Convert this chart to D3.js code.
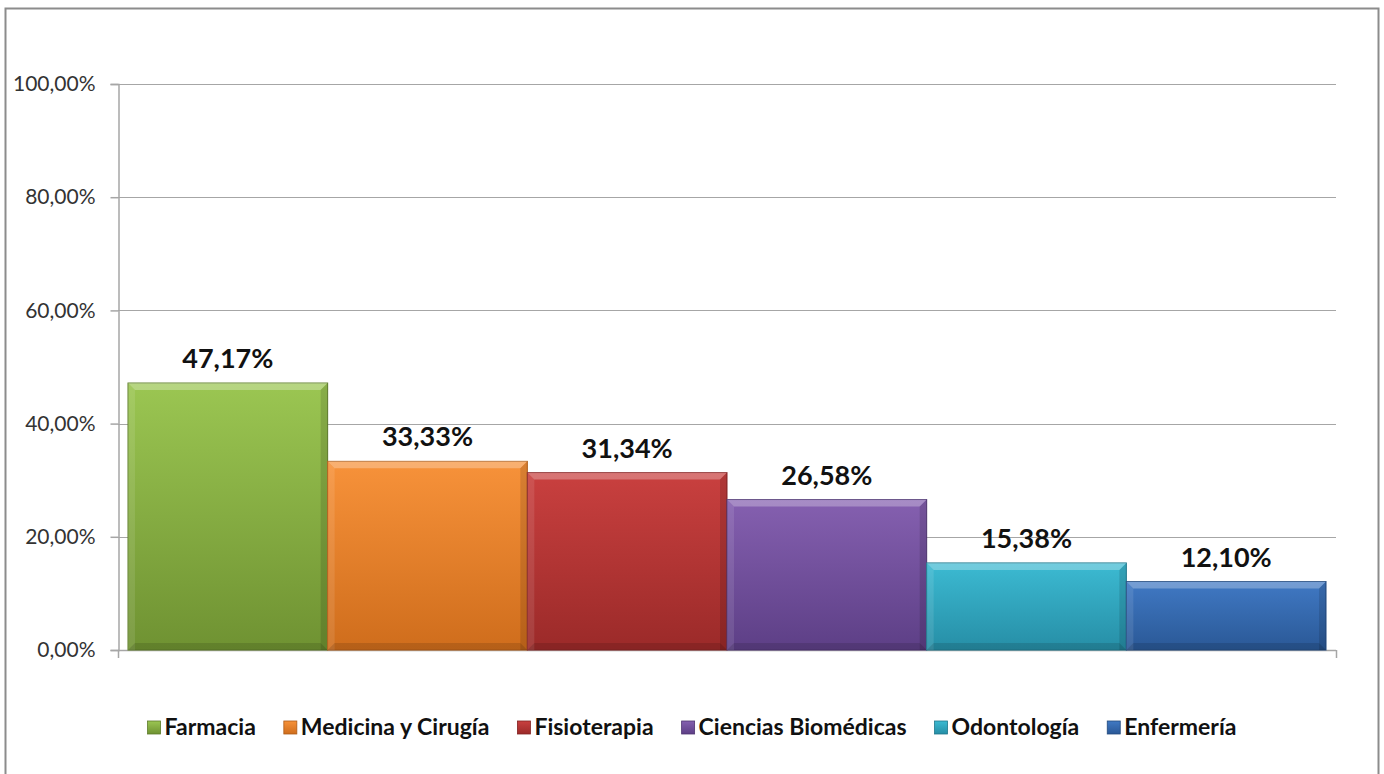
<!DOCTYPE html>
<html>
<head>
<meta charset="utf-8">
<script src="https://cdn.jsdelivr.net/npm/d3@7"></script>
<style>
  body { margin: 0; background: #fff; }
  text { font-family: Lato, "Open Sans", "DejaVu Sans", sans-serif; }
</style>
</head>
<body>
<svg id="chart"></svg>
<script>
// Data
const categories = ["Farmacia", "Medicina y Cirugía", "Fisioterapia", "Ciencias Biomédicas", "Odontología", "Enfermería"];
const values = [47.17, 33.33, 31.34, 26.58, 15.38, 12.10];
const yTicks = [0, 20, 40, 60, 80, 100];
const colors = [
    ["#9bc652", "#6f9232"],
    ["#f7923a", "#cf6d1c"],
    ["#c9403f", "#9b2a29"],
    ["#8560b0", "#5d3f86"],
    ["#3cbad2", "#268ea6"],
    ["#4079c4", "#2a5896"]
];

const width = 1384, height = 774;
const margin = { top: 84, right: 48, bottom: 124, left: 118 };

const svg = d3.select("#chart")
              .attr("width", width)
              .attr("height", height);

const fmt = v => d3.format(".2f")(v).replace(".", ",") + "%";

// Outer frame
svg.append("rect")
   .attr("x", 5.5).attr("y", 8.5)
   .attr("width", 1373).attr("height", 770)
   .attr("fill", "none")
   .attr("stroke", "#8c8c8c")
   .attr("stroke-width", 2);

// Scales
const xScale = d3.scaleBand()
                 .domain(categories)
                 .range([margin.left, width - margin.right])
                 .paddingInner(0)
                 .paddingOuter(0.05);

const yScale = d3.scaleLinear()
                 .domain([0, 100])
                 .range([height - margin.bottom, margin.top]);

// Gradients
const defs = svg.append("defs");
colors.forEach((c, i) => {
    const g = defs.append("linearGradient")
                  .attr("id", "grad" + i)
                  .attr("x1", 0).attr("y1", 0).attr("x2", 0).attr("y2", 1);
    g.append("stop").attr("offset", "0%").attr("stop-color", c[0]);
    g.append("stop").attr("offset", "100%").attr("stop-color", c[1]);
});

// Gridlines
svg.append("g")
   .selectAll("line")
   .data(yTicks.filter(d => d > 0))
   .join("line")
   .attr("x1", margin.left)
   .attr("x2", width - margin.right)
   .attr("y1", d => Math.round(yScale(d)) + 0.5)
   .attr("y2", d => Math.round(yScale(d)) + 0.5)
   .attr("stroke", "#a6a6a6")
   .attr("stroke-width", 1.2);

// Y axis
const yAxis = svg.append("g")
   .attr("transform", `translate(${margin.left + 0.5}, 0)`)
   .call(d3.axisLeft(yScale).tickValues(yTicks).tickFormat(fmt).tickSize(8).tickPadding(15));
yAxis.select(".domain").attr("stroke", "#a6a6a6").attr("stroke-width", 1.5);
yAxis.selectAll(".tick line").attr("stroke", "#a6a6a6").attr("stroke-width", 1.5);
yAxis.selectAll("text")
     .style("font-size", "21px")
     .attr("fill", "#333");

// X axis line
const x0 = yScale(0);
svg.append("line")
   .attr("x1", margin.left).attr("x2", width - margin.right)
   .attr("y1", x0 + 0.5).attr("y2", x0 + 0.5)
   .attr("stroke", "#a6a6a6").attr("stroke-width", 1.5);
[margin.left, width - margin.right].forEach(x => {
    svg.append("line")
       .attr("x1", x + 0.5).attr("x2", x + 0.5)
       .attr("y1", x0).attr("y2", x0 + 8)
       .attr("stroke", "#a6a6a6").attr("stroke-width", 1.5);
});

// Bars
const bw = xScale.bandwidth();
categories.forEach((cat, i) => {
    const x = xScale(cat);
    const y = yScale(values[i]);
    const h = yScale(0) - y;
    const g = svg.append("g");
    g.append("rect")
     .attr("x", x).attr("y", y)
     .attr("width", bw).attr("height", h)
     .attr("fill", `url(#grad${i})`)
     .attr("stroke", d3.color(colors[i][1]).darker(0.4))
     .attr("stroke-width", 1);
    // bevel: light top edge, darker side edges
    const b = 7;
    g.append("polygon")
     .attr("points", [[x, y], [x + bw, y], [x + bw - b, y + b], [x + b, y + b]].join(" "))
     .attr("fill", "#fff").attr("opacity", 0.28);
    g.append("polygon")
     .attr("points", [[x + bw, y], [x + bw, y + h], [x + bw - b, y + h], [x + bw - b, y + b]].join(" "))
     .attr("fill", "#000").attr("opacity", 0.12);
    g.append("polygon")
     .attr("points", [[x, y], [x + b, y + b], [x + b, y + h], [x, y + h]].join(" "))
     .attr("fill", "#fff").attr("opacity", 0.1);
    g.append("polygon")
     .attr("points", [[x, y + h], [x + b, y + h - b], [x + bw - b, y + h - b], [x + bw, y + h]].join(" "))
     .attr("fill", "#000").attr("opacity", 0.12);

    // value label
    svg.append("text")
       .attr("x", x + bw / 2)
       .attr("y", y - 15)
       .attr("text-anchor", "middle")
       .style("font-size", "27px")
       .style("font-weight", "bold")
       .attr("fill", "#111")
       .text(fmt(values[i]));
});

// Legend
const legend = svg.append("g");
const legendY = 727;
let lx = 0;
categories.forEach((cat, i) => {
    const item = legend.append("g");
    item.append("rect")
        .attr("x", 0).attr("y", legendY - 6)
        .attr("width", 13).attr("height", 13)
        .attr("fill", `url(#grad${i})`)
        .attr("stroke", d3.color(colors[i][1]).darker(0.5))
        .attr("stroke-width", 0.8);
    const t = item.append("text")
        .attr("x", 17).attr("y", legendY)
        .attr("dy", "0.35em")
        .style("font-size", "23px")
        .style("font-weight", "bold")
        .attr("fill", "#111")
        .text(cat);
    const w = 17 + t.node().getComputedTextLength();
    item.attr("transform", `translate(${lx}, 0)`);
    lx += w + 28;
});
const totalW = lx - 28;
legend.attr("transform", `translate(${(width - totalW) / 2}, 0)`);
</script>
</body>
</html>
